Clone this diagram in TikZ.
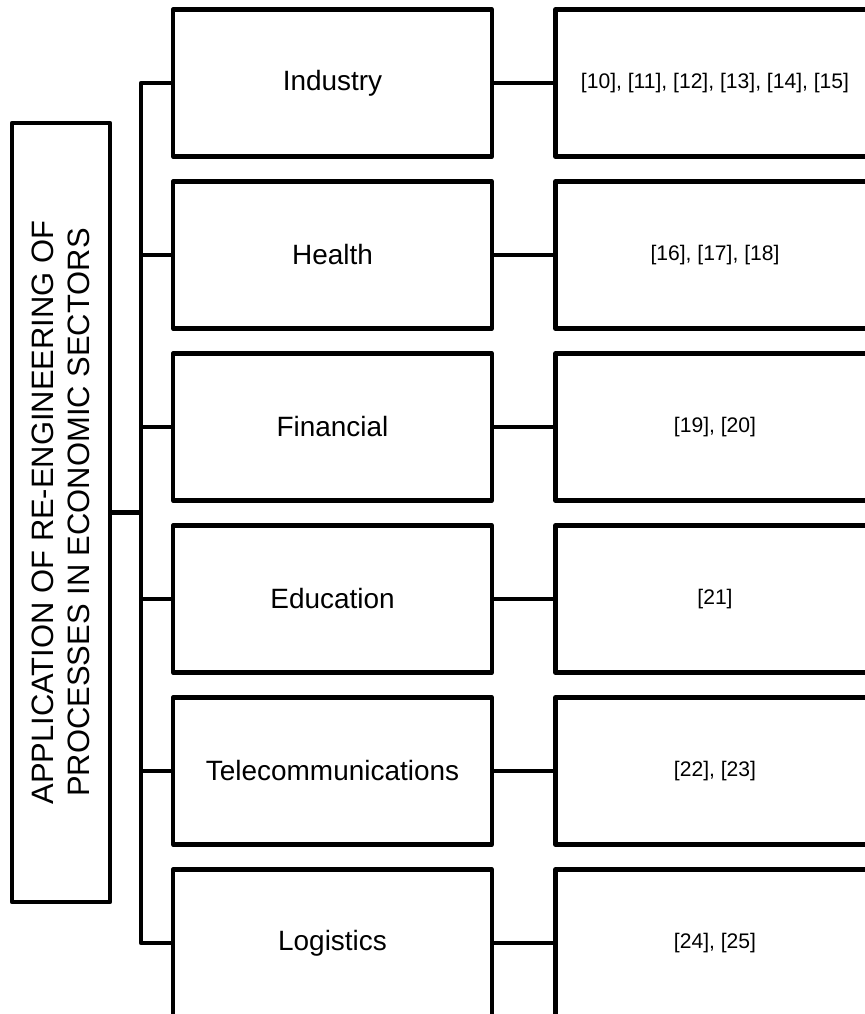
\documentclass[tikz,border=0pt]{standalone}
\usepackage{fontspec}
\setmainfont{Liberation Sans}
\begin{document}
\begin{tikzpicture}[line width=2.4pt,line join=round,
box/.style={draw,minimum width=6.38cm,minimum height=2.94cm,inner sep=0pt,align=center},
sector/.style={box,font=\fontsize{15.9}{19}\selectfont},
refs/.style={box,font=\fontsize{12}{14}\selectfont}]
\useasboundingbox(0,0)rectangle(17.3,-20.28);
\node[draw,rotate=90,minimum width=15.58cm,minimum height=1.96cm,align=center,font=\fontsize{17.6}{20.5}\selectfont](title)at(1.22,-10.25){APPLICATION OF RE-ENGINEERING OF\\PROCESSES IN ECONOMIC SECTORS};
\coordinate(trunk)at(2.82,0);
\foreach \s/\r [count=\i] in {Industry/{[10], [11], [12], [13], [14], [15]},Health/{[16], [17], [18]},Financial/{[19], [20]},Education/{[21]},Telecommunications/{[22], [23]},Logistics/{[24], [25]}}{
\node[sector](s\i)at(6.65,{-1.66-3.44*(\i-1)}){\s};
\node[refs](r\i)at(14.3,{-1.66-3.44*(\i-1)}){\r};
\draw(trunk|-s\i.west)--(s\i.west);
\draw(s\i.east)--(r\i.west);}
\draw(s1.west)--(trunk|-s1.west)--(trunk|-s6.west)--(s6.west);
\draw(title.south)--(trunk|-title.south);
\end{tikzpicture}
\end{document}
